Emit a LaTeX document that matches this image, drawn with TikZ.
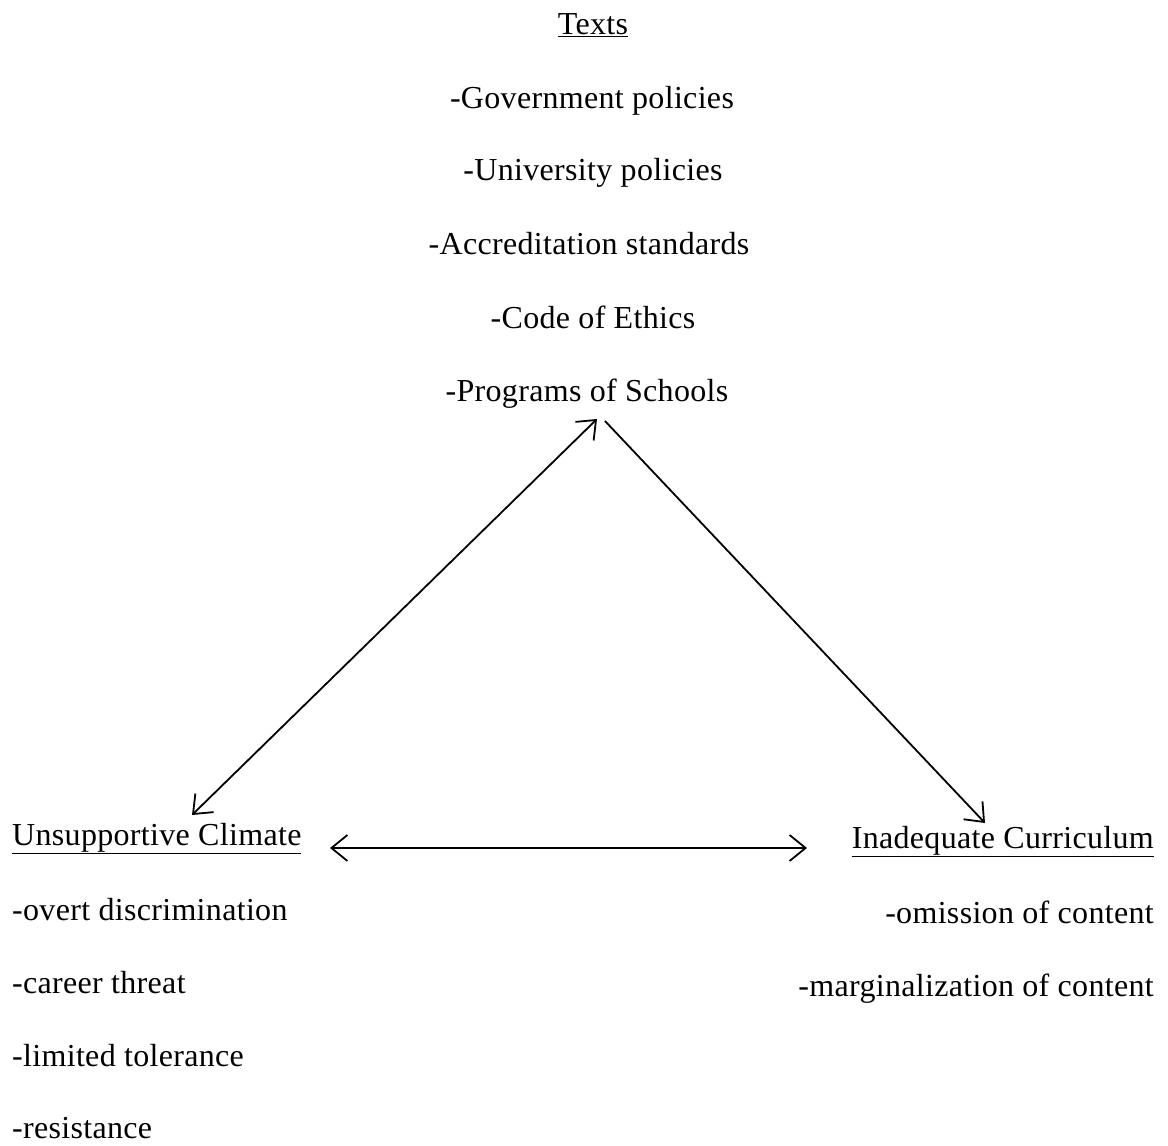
\documentclass[tikz,border=0pt]{standalone}
\usepackage{fontspec}
\setmainfont[LetterSpace=1]{Liberation Serif}
\usetikzlibrary{arrows.meta}
\begin{document}
\begin{tikzpicture}[x=1pt,y=-1pt,
  txt/.style={font=\fontsize{32}{37}\selectfont, inner sep=0pt, anchor=base},
  conn/.style={line width=1.8pt, black},
  hd/.tip={Straight Barb[length=16pt,width=26pt,line width=1.8pt]}]
\useasboundingbox (0,0) rectangle (1168,1146);
% top list
\node[txt] (texts) at (593,34) {\underline{Texts}};
\node[txt] (gov) at (592,108) {-Government policies};
\node[txt] (uni) at (593,180) {-University policies};
\node[txt] (acc) at (589,254) {-Accreditation standards};
\node[txt] (code) at (593,328) {-Code of Ethics};
\node[txt] (prog) at (587,401) {-Programs of Schools};
% left list
\node[txt, anchor=base west] (climate) at (12,845) {\underline{Unsupportive Climate}};
\node[txt, anchor=base west] (overt) at (12,920) {-overt discrimination};
\node[txt, anchor=base west] (career) at (12,993) {-career threat};
\node[txt, anchor=base west] (limited) at (12,1066) {-limited tolerance};
\node[txt, anchor=base west] (resist) at (12,1138) {-resistance};
% right list
\node[txt, anchor=base east] (curr) at (1154,848) {\underline{Inadequate Curriculum}};
\node[txt, anchor=base east] (omis) at (1154,923) {-omission of content};
\node[txt, anchor=base east] (marg) at (1154,996) {-marginalization of content};
% connector ends
\coordinate (pL) at (597,419);
\coordinate (pR) at (605,421);
\coordinate (cT) at (192,815);
\coordinate (iT) at (985,823);
\coordinate (cR) at (330,848);
\coordinate (iL) at (807,848);
\draw[conn, hd-hd] (pL) -- (cT);
\draw[conn, -hd] (pR) -- (iT);
\draw[conn, hd-hd] (cR) -- (iL);
\end{tikzpicture}
\end{document}
